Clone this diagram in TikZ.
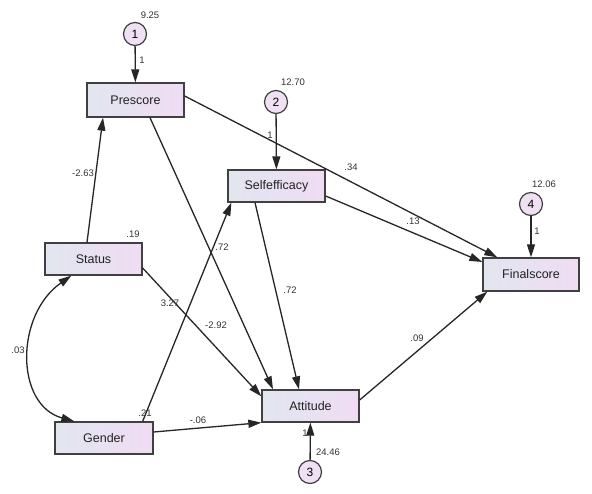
\documentclass[tikz,border=0pt]{standalone}
\usepackage{fontspec}
\setmainfont{Liberation Sans}
\usetikzlibrary{arrows.meta,calc}
\definecolor{boxL}{HTML}{E2E6EF}
\definecolor{boxR}{HTML}{EFDCF3}
\definecolor{errfill}{HTML}{EFE0F3}
\definecolor{txt}{HTML}{222222}
\tikzset{
  var/.style={draw=black!75, line width=1.3pt, rectangle, left color=boxL, right color=boxR,
    minimum width=97pt, minimum height=32pt, font=\fontsize{12.5}{14}\selectfont, text=txt, inner sep=0pt},
  err/.style={draw=black!75, line width=1.2pt, circle, fill=errfill, minimum size=23pt, inner sep=0pt,
    font=\fontsize{12}{13}\selectfont},
  num/.style={font=\fontsize{9.5}{10}\selectfont, text=black!80, inner sep=0pt},
  path/.style={line width=1.3pt, black!85, -{Triangle[length=13pt,width=8pt]}},
  cov/.style={line width=1.3pt, black!85, {Triangle[length=13pt,width=8pt]}-{Triangle[length=13pt,width=8pt]}}
}
\begin{document}
\begin{tikzpicture}[x=1pt,y=-1pt]
\useasboundingbox (0,0) rectangle (592,494);
\fill[white] (0,0) rectangle (592,494);
% variables
\node[var, minimum height=34pt] (prescore) at (135.5,100) {Prescore};
\node[var] (selfeff) at (276.5,186) {Selfefficacy};
\node[var] (status) at (93.5,259) {Status};
\node[var, minimum width=98pt] (gender) at (104,438) {Gender};
\node[var] (attitude) at (310.5,406) {Attitude};
\node[var, minimum width=96pt, minimum height=33pt] (finalscore) at (531,274.5) {Finalscore};
% errors
\node[err] (e1) at (135,34) {1};
\node[err] (e2) at (276,102) {2};
\node[err] (e3) at (310,472) {3};
\node[err] (e4) at (531,204) {4};
% anchor coordinates
\coordinate (sTop) at ($(status.north)+(-6.5,0)$);
\coordinate (pBot1) at ($(prescore.south)+(-32.5,0)$);
\coordinate (pBot2) at ($(prescore.south)+(14.5,0)$);
\coordinate (pRight) at ($(prescore.east)+(0,-4)$);
\coordinate (aTop1) at ($(attitude.north)+(-37.5,0)$);
\coordinate (aTop2) at ($(attitude.north)+(-11.5,0)$);
\coordinate (aLeft1) at ($(attitude.north west)+(0,7)$);
\coordinate (aLeft2) at ($(attitude.south west)+(0,0)$);
\coordinate (aRight) at ($(attitude.east)+(0,-6)$);
\coordinate (fTop) at ($(finalscore.north west)+(15,0)$);
\coordinate (fLeft) at ($(finalscore.west)+(0,-12.5)$);
\coordinate (fBot) at ($(finalscore.south west)+(5,0)$);
\coordinate (seRight) at ($(selfeff.east)+(0,10)$);
\coordinate (seBot1) at ($(selfeff.south)+(-21.5,0)$);
\coordinate (seBot2) at ($(selfeff.south west)+(4,0)$);
\coordinate (stRight) at ($(status.east)+(0,9)$);
\coordinate (stBot) at ($(status.south west)+(27,0)$);
\coordinate (gTop1) at ($(gender.north east)+(-11,0)$);
\coordinate (gTop2) at ($(gender.north west)+(20,0)$);
\coordinate (gRight) at ($(gender.east)+(0,-6)$);
% error paths
\draw[path] (e1) -- (prescore);
\draw[path] (e2) -- (selfeff);
\draw[path] (e3) -- (attitude);
\draw[path] (e4) -- (finalscore);
% structural paths
\draw[path] (sTop) -- (pBot1);
\draw[path] (pBot2) -- (aTop1);
\draw[path] (pRight) -- (fTop);
\draw[path] (seRight) -- (fLeft);
\draw[path] (seBot1) -- (aTop2);
\draw[path] (stRight) -- (aLeft1);
\draw[path] (gTop1) -- (seBot2);
\draw[path] (gRight) -- (aLeft2);
\draw[path] (aRight) -- (fBot);
\draw[cov] (stBot) .. controls (15,315) and (15,405) .. (gTop2);
% labels
\node[num] at (150,15) {9.25};
\node[num] at (293,82) {12.70};
\node[num] at (544,184) {12.06};
\node[num] at (328,452) {24.46};
\node[num] at (142,60) {1};
\node[num] at (270,135) {1};
\node[num] at (537,231) {1};
\node[num] at (305,433) {1};
\node[num] at (83,173) {-2.63};
\node[num] at (133,234) {.19};
\node[num] at (145,413) {.21};
\node[num] at (18,350) {.03};
\node[num] at (170,303) {3.27};
\node[num] at (222,247) {.72};
\node[num] at (290,290) {.72};
\node[num] at (216,325) {-2.92};
\node[num] at (351,167) {.34};
\node[num] at (413,221) {.13};
\node[num] at (417,338) {.09};
\node[num] at (198,420) {-.06};
\end{tikzpicture}
\end{document}
